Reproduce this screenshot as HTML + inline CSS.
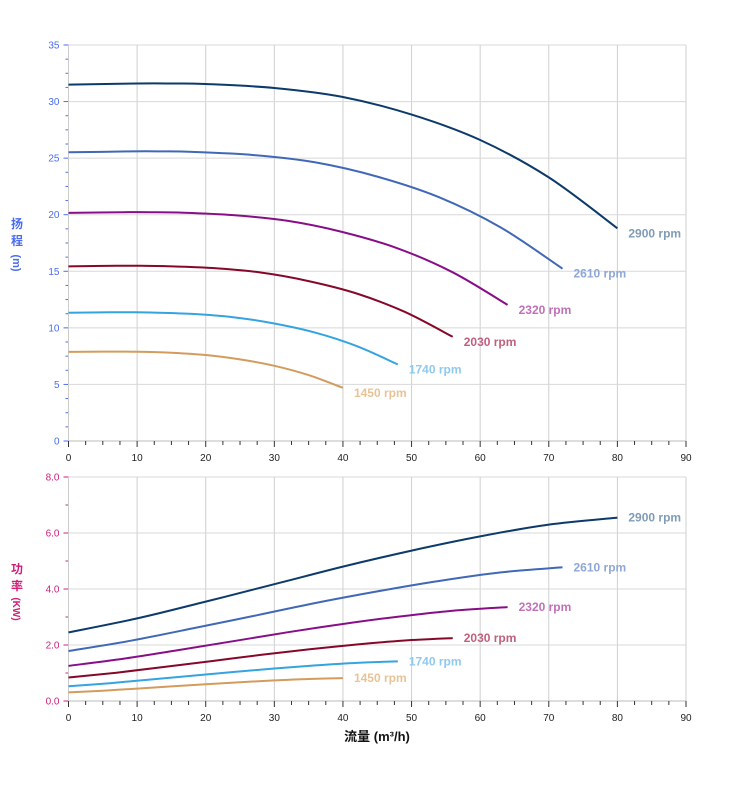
<!DOCTYPE html>
<html><head><meta charset="utf-8"><style>
html,body{margin:0;padding:0;background:#fff;}
svg{display:block;font-family:"Liberation Sans","Noto Sans CJK SC",sans-serif;}
</style></head><body>
<svg id="s" width="752" height="797" viewBox="0 0 752 797"></svg>
<script>
const S=document.getElementById('s');let h='';
const X0=68.5,XS=(686-68.5)/90;
const tx=q=>X0+q*XS;
const T0=441,TS=(441-45)/35, ty=v=>T0-v*TS;
const B0=701,BS=(701-477)/8, by=v=>B0-v*BS;
function grid(y0,y1,yvals,yf,minor,col,fmt){
  for(let q=0;q<=90;q+=10)h+=`<line x1="${tx(q)}" y1="${y1}" x2="${tx(q)}" y2="${y0}" stroke="#cfcfcf" stroke-width="1"/>`;
  yvals.forEach(v=>{h+=`<line x1="${X0}" y1="${yf(v)}" x2="686" y2="${yf(v)}" stroke="#d8d8d8" stroke-width="1"/>`;
    h+=`<line x1="${X0-5}" y1="${yf(v)}" x2="${X0}" y2="${yf(v)}" stroke="${col}"/>`;
    h+=`<text x="${X0-9}" y="${yf(v)+3.5}" font-size="10" fill="${col}" text-anchor="end">${fmt(v)}</text>`;});
  minor.forEach(v=>h+=`<line x1="${X0-3}" y1="${yf(v)}" x2="${X0}" y2="${yf(v)}" stroke="${col}"/>`);
  h+=`<line x1="${X0}" y1="${y1}" x2="${X0}" y2="${y0}" stroke="#ccc"/>`;
  h+=`<line x1="${X0}" y1="${y0}" x2="686" y2="${y0}" stroke="#bbb"/>`;
  for(let q=0;q<=90;q+=2.5){const big=q%10==0;h+=`<line x1="${tx(q)}" y1="${y0}" x2="${tx(q)}" y2="${y0+(big?6:4)}" stroke="#333"/>`;}
  for(let q=0;q<=90;q+=10)h+=`<text x="${tx(q)}" y="${y0+20}" font-size="10" fill="#222" text-anchor="middle">${q}</text>`;
}
let tv=[0,5,10,15,20,25,30,35],tm=[];for(let v=0;v<35;v+=5){tm.push(v+1.25,v+2.5,v+3.75);}
grid(441,45,tv,ty,tm,'#4a6cf0',v=>v);
let bv=[0,2,4,6,8],bm=[1,3,5,7];
grid(701,477,bv,by,bm,'#d0207a',v=>v.toFixed(1));
const H=[[0,31.5],[10,31.6],[15,31.6],[20,31.55],[30,31.2],[40,30.4],[50,28.85],[60,26.6],[70,23.3],[80,18.8]];
const P=[[0,2.45],[10,2.95],[20,3.55],[30,4.17],[40,4.8],[50,5.37],[60,5.88],[70,6.3],[80,6.55]];
function cr(pts){let d=`M${pts[0][0].toFixed(1)},${pts[0][1].toFixed(1)}`;
  for(let i=0;i<pts.length-1;i++){const p0=pts[Math.max(0,i-1)],p1=pts[i],p2=pts[i+1],p3=pts[Math.min(pts.length-1,i+2)];
    d+=` C${(p1[0]+(p2[0]-p0[0])/6).toFixed(1)},${(p1[1]+(p2[1]-p0[1])/6).toFixed(1)} ${(p2[0]-(p3[0]-p1[0])/6).toFixed(1)},${(p2[1]-(p3[1]-p1[1])/6).toFixed(1)} ${p2[0].toFixed(1)},${p2[1].toFixed(1)}`;}
  return d;}
const ser=[[2900,'#0b3a6b','#7f9cb6'],[2610,'#4168b6','#8ea7d6'],[2320,'#880e88','#c070b8'],[2030,'#850828','#c0607c'],[1740,'#35a3e0','#90c9ee'],[1450,'#d39c5c','#e9c396']];
ser.forEach(([n,c,lc])=>{const r=n/2900;
  const hp=H.map(([q,v])=>[tx(q*r),ty(v*r*r)]);
  const pp=P.map(([q,v])=>[tx(q*r),by(v*r*r*r)]);
  h+=`<path d="${cr(hp)}" fill="none" stroke="${c}" stroke-width="2"/>`;
  h+=`<path d="${cr(pp)}" fill="none" stroke="${c}" stroke-width="2"/>`;
  const e=hp[hp.length-1],f=pp[pp.length-1];
  h+=`<text x="${e[0]+11}" y="${e[1]+9}" font-size="12" font-weight="bold" fill="${lc}">${n} rpm</text>`;
  h+=`<text x="${f[0]+11}" y="${f[1]+4}" font-size="12" font-weight="bold" fill="${lc}">${n} rpm</text>`;
});
h+=`<text x="17" y="228" font-size="12" font-weight="bold" fill="#4a6cf0" text-anchor="middle">扬</text>`;
h+=`<text x="17" y="245" font-size="12" font-weight="bold" fill="#4a6cf0" text-anchor="middle">程</text>`;
h+=`<text transform="translate(13,263) rotate(90)" font-size="11" font-weight="bold" fill="#4a6cf0" text-anchor="middle">(m)</text>`;
h+=`<text x="17" y="573" font-size="12" font-weight="bold" fill="#d0207a" text-anchor="middle">功</text>`;
h+=`<text x="17" y="590" font-size="12" font-weight="bold" fill="#d0207a" text-anchor="middle">率</text>`;
h+=`<text transform="translate(13,609) rotate(90)" font-size="10" font-weight="bold" fill="#d0207a" text-anchor="middle">(KW)</text>`;
h+=`<text x="377" y="741" font-size="13" font-weight="bold" fill="#111" text-anchor="middle">流量 (m³/h)</text>`;
S.innerHTML=h;
</script>
</body></html>
